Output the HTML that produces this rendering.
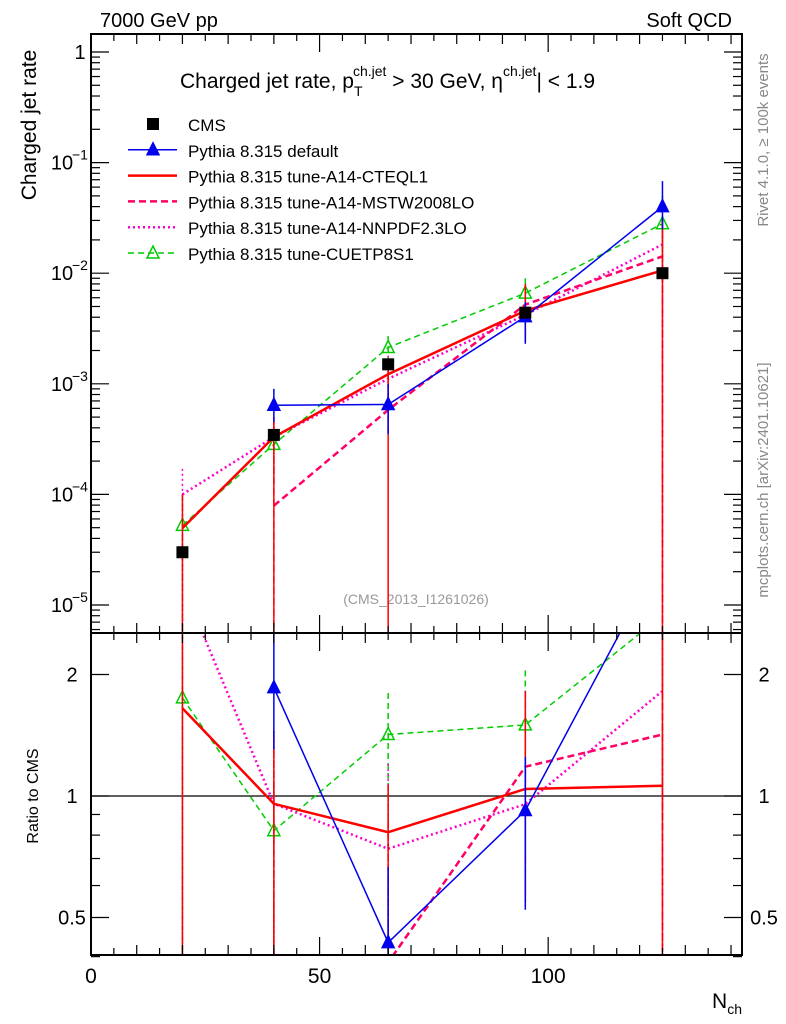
<!DOCTYPE html>
<html><head><meta charset="utf-8"><style>
html,body{margin:0;padding:0;background:#fff;overflow:hidden;width:786px;height:1024px;}
svg{display:block;font-family:"Liberation Sans",sans-serif;}
</style></head><body>
<svg id="c" width="786" height="1024" viewBox="0 0 786 1024" xmlns="http://www.w3.org/2000/svg">
<text x="100" y="27" font-size="20">7000 GeV pp</text>
<text x="732" y="27" font-size="20" text-anchor="end">Soft QCD</text>
<text x="180" y="88" font-size="21">Charged jet rate, p<tspan font-size="14" dy="8">T</tspan><tspan font-size="14" dy="-20" dx="-8">ch.jet</tspan><tspan dy="12"> &gt; 30 GeV,  η</tspan><tspan font-size="14" dy="-12">ch.jet</tspan><tspan dy="12">| &lt; 1.9</tspan></text>
<text transform="translate(36,125) rotate(-90)" font-size="21" text-anchor="middle">Charged jet rate</text>
<text transform="translate(38,796) rotate(-90)" font-size="16" text-anchor="middle">Ratio to CMS</text>
<text x="742" y="1008" font-size="21" text-anchor="end">N<tspan font-size="14" dy="6">ch</tspan></text>
<text transform="translate(768,140) rotate(-90)" font-size="15" fill="#888" text-anchor="middle">Rivet 4.1.0, ≥ 100k events</text>
<text transform="translate(768,480) rotate(-90)" font-size="15" fill="#888" text-anchor="middle">mcplots.cern.ch [arXiv:2401.10621]</text>
<text x="416" y="604" font-size="14" fill="#999" text-anchor="middle">(CMS_2013_I1261026)</text>
<g id="g"></g>
</svg>
<script>
const xs=[20,40,65,95,125];
const cms=[3.0e-5,3.45e-4,1.5e-3,4.4e-3,1.0e-2];
const pyDefault=[null,6.4e-4,6.5e-4,4.05e-3,4.0e-2];
const pyDefaultLo=[null,4.5e-4,3.5e-4,2.3e-3,2.5e-2];
const pyDefaultHi=[null,9e-4,1e-3,5.5e-3,6.8e-2];
const pyCTEQ=[4.95e-5,3.3e-4,1.22e-3,4.58e-3,1.06e-2];
const pyCTEQLo=[0,0,0,2.4e-3,0];
const pyCTEQHi=[1e-4,5e-4,1.6e-3,8e-3,3e-2];
const pyMSTW=[null,7.9e-5,5.8e-4,5.2e-3,1.42e-2];
const pyMSTWLo=[null,0,3.5e-4,2.4e-3,0];
const pyMSTWHi=[null,4.5e-4,1.3e-3,8e-3,3e-2];
const pyNNPDF=[1.0e-4,3.3e-4,1.11e-3,4.2e-3,1.82e-2];
const pyNNPDFLo=[0,1.5e-4,5e-4,2.5e-3,0];
const pyNNPDFHi=[1.7e-4,5e-4,1.8e-3,8e-3,3e-2];
const pyCUETP=[5.25e-5,2.83e-4,2.13e-3,6.6e-3,2.8e-2];
const pyCUETPLo=[0,1.2e-4,1.1e-3,3e-3,8e-3];
const pyCUETPHi=[1e-4,4e-4,2.7e-3,9e-3,5e-2];
const yTicks=[1,0.1,0.01,0.001,0.0001,0.00001];
const yTickLabels=["1","10","10","10","10","10"];
const yTickExp=["","−1","−2","−3","−4","−5"];
const xTicks=[0,50,100];
const rTicks=[0.5,1,2];

const NS="http://www.w3.org/2000/svg";
const g=document.getElementById('g');
const L=91,R=742,T=34,M=633,B=955;
const X=v=>L+(v-0)/142.4*(R-L);
const Y=v=>v>0?52-110.6*Math.log10(v):M+50;
const RY=r=>r>0?796-121.5*Math.log2(r):B+50;
function el(tag,a,p){const e=document.createElementNS(NS,tag);for(const k in a)e.setAttribute(k,a[k]);(p||g).appendChild(e);return e;}
const clipM=el('clipPath',{id:'cm'});el('rect',{x:L,y:T,width:R-L,height:M-T},clipM);
const clipR=el('clipPath',{id:'cr'});el('rect',{x:L,y:M,width:R-L,height:B-M},clipR);
const gm=el('g',{'clip-path':'url(#cm)'});
const gr=el('g',{'clip-path':'url(#cr)'});

let f=el('rect',{x:L,y:T,width:R-L,height:M-T,fill:'none',stroke:'#000','stroke-width':2});

f=el('rect',{x:L,y:M,width:R-L,height:B-M,fill:'none',stroke:'#000','stroke-width':2});


for(let v=0;v<=140;v+=5){const x=X(v);const len=v%50==0?18:(v%10==0?10:7);
 for(const [y0,d] of [[M,-1],[T,1],[B,-1],[M,1]]){el('line',{x1:x,x2:x,y1:y0,y2:y0+d*len,stroke:'#000','stroke-width':1.2});}}
xTicks.forEach(v=>{const t=el('text',{x:X(v),y:983,'font-size':21,'text-anchor':'middle'});t.textContent=v;
 });
for(let e=-6;e<=0;e++){for(let m=1;m<10;m++){const v=m*Math.pow(10,e);const y=Y(v);if(y<T||y>M)continue;const len=m==1?18:9;
 el('line',{x1:L,x2:L+len,y1:y,y2:y,stroke:'#000','stroke-width':1.2});el('line',{x1:R,x2:R-len,y1:y,y2:y,stroke:'#000','stroke-width':1.2});}}
yTicks.forEach((v,i)=>{const t=el('text',{x:yTickExp[i]?62:80,y:Y(v)+7,'font-size':20,'text-anchor':'middle'});t.textContent=yTickLabels[i];
 
 if(yTickExp[i]){const s=el('text',{x:72,y:Y(v)-3,'font-size':14});s.textContent=yTickExp[i];}});
for(const r of [0.4,0.5,0.6,0.7,0.8,0.9,1,2]){const y=RY(r);const len=(r==0.5||r==1||r==2)?18:9;
 el('line',{x1:L,x2:L+len,y1:y,y2:y,stroke:'#000','stroke-width':1.2});el('line',{x1:R,x2:R-len,y1:y,y2:y,stroke:'#000','stroke-width':1.2});}
rTicks.forEach(r=>{for(const xx of [72,764]){const t=el('text',{x:xx,y:RY(r)+7,'font-size':20,'text-anchor':'middle'});t.textContent=r;
 }});
let ln=el('line',{x1:L,x2:R,y1:RY(1),y2:RY(1),stroke:'#000','stroke-width':1.2},gr);


const series=[
 {n:'cuetp8s1',d:pyCUETP,lo:pyCUETPLo,hi:pyCUETPHi,c:'#00cc00',w:1.5,da:'6,4',m:'otri'},
 {n:'nnpdf',d:pyNNPDF,lo:pyNNPDFLo,hi:pyNNPDFHi,c:'#ff00cc',w:2.5,da:'2,3',m:null},
 {n:'mstw',d:pyMSTW,lo:pyMSTWLo,hi:pyMSTWHi,c:'#ff0066',w:2.5,da:'7,4',m:null},
 {n:'cteql1',d:pyCTEQ,lo:pyCTEQLo,hi:pyCTEQHi,c:'#ff0000',w:2.5,da:null,m:null},
 {n:'default',d:pyDefault,lo:pyDefaultLo,hi:pyDefaultHi,c:'#0000ee',w:1.5,da:null,m:'tri'}];
function tri(p,x,y,c,open,name){const t=el('polygon',{points:`${x},${y-7} ${x-6},${y+5} ${x+6},${y+5}`,fill:open?'none':c,stroke:c,'stroke-width':1.5},p);
 }
series.forEach(s=>{
 const attrs={fill:'none',stroke:s.c,'stroke-width':s.w};if(s.da)attrs['stroke-dasharray']=s.da;
 const idx=s.d.map((v,i)=>i).filter(i=>s.d[i]!=null);
 idx.forEach(i=>{
  let e=el('line',Object.assign({},attrs,{'stroke-width':1.5,x1:X(xs[i]),x2:X(xs[i]),y1:Y(s.hi[i]),y2:Y(s.lo[i])}),gm);
  
  e=el('line',Object.assign({},attrs,{'stroke-width':1.5,x1:X(xs[i]),x2:X(xs[i]),y1:RY(s.hi[i]/cms[i]),y2:RY(s.lo[i]/cms[i])}),gr);
  });
 let p=el('polyline',Object.assign({},attrs,{points:idx.map(i=>X(xs[i])+','+Y(s.d[i])).join(' ')}),gm);
 
 p=el('polyline',Object.assign({},attrs,{points:idx.map(i=>X(xs[i])+','+RY(s.d[i]/cms[i])).join(' ')}),gr);
 
 if(s.m){idx.forEach(i=>{tri(gm,X(xs[i]),Y(s.d[i]),s.c,s.m=='otri',s.n+'-marker');tri(gr,X(xs[i]),RY(s.d[i]/cms[i]),s.c,s.m=='otri',s.n+'-ratio-marker');});}
});
cms.forEach((v,i)=>{const r=el('rect',{x:X(xs[i])-6,y:Y(v)-6,width:12,height:12,fill:'#000'},gm);
 });

const leg=[['CMS','#000',null,'sq',0],['Pythia 8.315 default','#0000ee',null,'tri',1.5],['Pythia 8.315 tune-A14-CTEQL1','#ff0000',null,null,2.5],
 ['Pythia 8.315 tune-A14-MSTW2008LO','#ff0066','7,4',null,2.5],['Pythia 8.315 tune-A14-NNPDF2.3LO','#ff00cc','2,3',null,2.5],['Pythia 8.315 tune-CUETP8S1','#00cc00','6,4','otri',1.5]];
const lg=el('g',{});
leg.forEach((l,i)=>{const y=124+i*25.8;
 if(l[4]){const a={x1:128,x2:177,y1:y,y2:y,stroke:l[1],'stroke-width':l[4]};if(l[2])a['stroke-dasharray']=l[2];el('line',a,lg);}
 if(l[3]=='sq')el('rect',{x:147,y:y-6,width:12,height:12,fill:'#000'},lg);
 if(l[3]=='tri'||l[3]=='otri')tri(lg,153,y,l[1],l[3]=='otri','legend-marker');
 const t=el('text',{x:188,y:y+7,'font-size':17},lg);t.textContent=l[0];
 });
</script>
</body></html>
